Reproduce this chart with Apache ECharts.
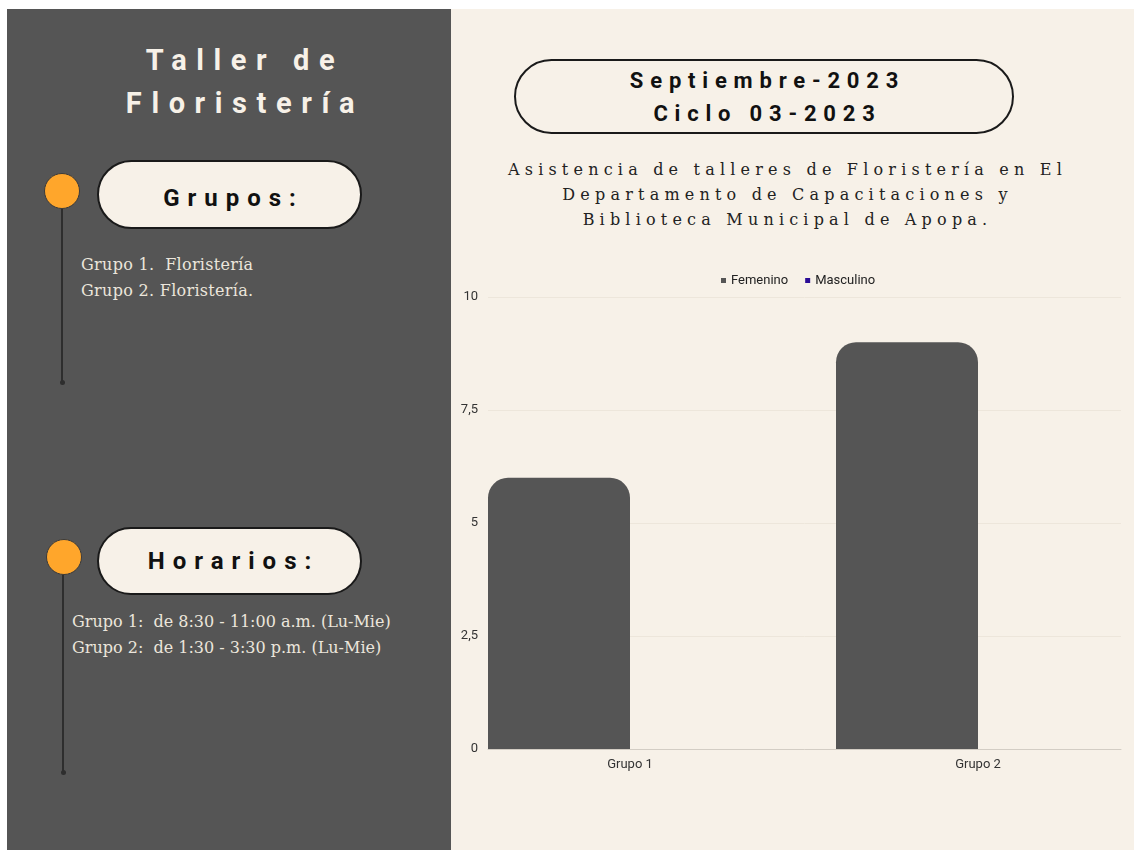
<!DOCTYPE html>
<html>
<head>
<meta charset="utf-8">
<title>Taller de Floristería</title>
<script src="https://cdn.jsdelivr.net/npm/echarts@6/dist/echarts.min.js"></script>
<style>
  body { margin: 0; background: #fff; width: 1134px; height: 850px; overflow: hidden; position: relative; font-family: Roboto, sans-serif; }
  .panel-left { position: absolute; left: 7px; top: 9px; width: 444px; height: 841px; background: #555555; }
  .panel-right { position: absolute; left: 451px; top: 9px; width: 683px; height: 841px; background: #f7f1e8; }
  .titulo { position: absolute; left: 18px; width: 444px; top: 39px; text-align: center; color: #f7f1e8;
    font: bold 29px/43px Roboto, sans-serif; letter-spacing: 9.6px; padding-left: 10px; box-sizing: border-box; }
  .punto { position: absolute; width: 36px; height: 36px; border-radius: 50%; background: #ffa62b; border: 1px solid #3a3a3a; box-sizing: border-box; }
  .linea { position: absolute; width: 2px; background: #2e2e2e; }
  .fin { position: absolute; width: 5px; height: 5px; border-radius: 50%; background: #2e2e2e; }
  .pill { position: absolute; background: #f7f1e8; border: 2px solid #1a1a1a; box-sizing: border-box;
    display: flex; align-items: center; justify-content: center; text-align: center; color: #111; font-weight: bold; }
  .lista { position: absolute; color: #ece6dc; font: 16px/26px "DejaVu Serif", serif; white-space: pre; }
  .subtitulo { position: absolute; left: 452px; width: 666px; top: 157px; text-align: center; color: #222;
    font: 16px/25px "DejaVu Serif", serif; letter-spacing: 5.2px; padding-left: 5px; box-sizing: border-box; }
  #chart { position: absolute; left: 0; top: 0; width: 1160px; height: 850px; }
</style>
</head>
<body>
<div class="panel-left"></div>
<div class="panel-right"></div>

<div class="titulo">Taller de<br>Floristería</div>

<div class="punto" style="left:44px;top:173px"></div>
<div class="linea" style="left:61px;top:209px;height:174px"></div>
<div class="fin" style="left:59.5px;top:380px"></div>
<div class="pill" style="left:97px;top:160px;width:265px;height:69px;border-radius:35px;font-size:24px;letter-spacing:8px;padding-left:8px;padding-top:6px">Grupos:</div>
<div class="lista" style="left:81px;top:252px;letter-spacing:0.3px">Grupo 1.  Floristería
Grupo 2. Floristería.</div>

<div class="punto" style="left:46px;top:539px"></div>
<div class="linea" style="left:62px;top:575px;height:198px"></div>
<div class="fin" style="left:60.5px;top:770px"></div>
<div class="pill" style="left:97px;top:527px;width:265px;height:68px;border-radius:34px;font-size:24px;letter-spacing:8px;padding-left:8px">Horarios:</div>
<div class="lista" style="left:72px;top:609px">Grupo 1:  de 8:30 - 11:00 a.m. (Lu-Mie)
Grupo 2:  de 1:30 - 3:30 p.m. (Lu-Mie)</div>

<div class="pill" style="left:514px;top:59px;width:500px;height:75px;border-radius:38px;font-size:22px;line-height:33px;letter-spacing:6.8px;padding-left:7px">Septiembre-2023<br>Ciclo 03-2023</div>

<div class="subtitulo">Asistencia de talleres de Floristería en El<br>Departamento de Capacitaciones y<br>Biblioteca Municipal de Apopa.</div>

<div id="chart"></div>

<script>
// datos
const categorias = ['Grupo 1', 'Grupo 2']
const femenino = [6, 9]
const masculino = [0, 0]
const yMin = 0
const yMax = 10
const yPaso = 2.5

// el div del grafico es mas ancho que la ventana (1160) para que las
// barras del Grupo 2 queden donde estan en la imagen
const chart = echarts.init(document.getElementById('chart'))

const etiqueta = { color: '#333', fontFamily: 'Roboto', fontSize: 13 }

const option = {
  backgroundColor: 'transparent',
  animation: false,
  legend: {
    left: 716,
    top: 269,
    icon: 'rect',
    itemWidth: 5,
    itemHeight: 5,
    itemGap: 17,
    textStyle: { color: '#222', fontFamily: 'Roboto', fontSize: 13 },
    data: ['Femenino', 'Masculino']
  },
  grid: [
    // barras
    { left: 456, right: 8, top: 297, bottom: 101 },
    // marco: lineas y eje y
    { left: 488, right: 39, top: 297, bottom: 101 }
  ],
  xAxis: [
    {
      type: 'category',
      gridIndex: 0,
      data: categorias,
      axisLine: { show: false },
      axisTick: { show: false },
      axisLabel: Object.assign({ margin: 9 }, etiqueta)
    },
    {
      type: 'value',
      gridIndex: 1,
      min: 0,
      max: 1,
      axisLine: { show: true, onZero: false, lineStyle: { color: '#d3cdc4', width: 1 } },
      axisTick: { show: false },
      axisLabel: { show: false },
      splitLine: { show: false }
    }
  ],
  yAxis: [
    {
      type: 'value',
      gridIndex: 0,
      min: yMin,
      max: yMax,
      interval: yPaso,
      show: false
    },
    {
      type: 'value',
      gridIndex: 1,
      min: yMin,
      max: yMax,
      interval: yPaso,
      axisLine: { show: false },
      axisTick: { show: false },
      axisLabel: Object.assign({
        margin: 10,
        formatter: v => String(v).replace('.', ',')
      }, etiqueta),
      splitLine: { lineStyle: { color: '#ede6db', width: 1 } }
    }
  ],
  series: [
    {
      name: 'Femenino',
      type: 'bar',
      xAxisIndex: 0,
      yAxisIndex: 0,
      barWidth: 142,
      barGap: 0,
      itemStyle: { color: '#555555', borderRadius: [20, 20, 0, 0] },
      data: femenino
    },
    {
      name: 'Masculino',
      type: 'bar',
      xAxisIndex: 0,
      yAxisIndex: 0,
      barWidth: 142,
      barGap: 0,
      itemStyle: { color: '#2b0c96', borderRadius: [20, 20, 0, 0] },
      data: masculino
    }
  ]
}

chart.setOption(option)
</script>
</body>
</html>
